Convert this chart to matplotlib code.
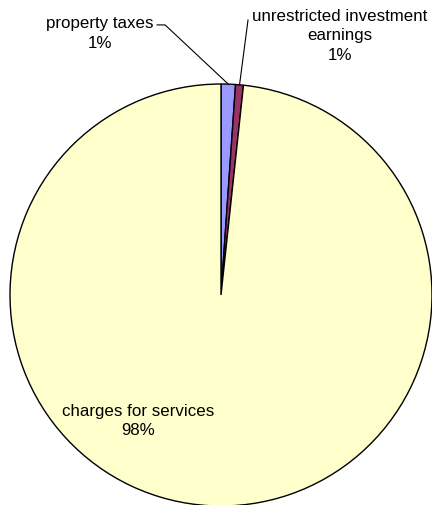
import matplotlib
matplotlib.use("Agg")
import matplotlib.pyplot as plt
import numpy as np

plt.rcParams['font.family'] = ['Liberation Sans', 'DejaVu Sans']

labels = ['property taxes', 'unrestricted investment\nearnings', 'charges for services']
values = [1.1, 0.6, 98.3]
colors = ['#9999FF', '#993366', '#FFFFCC']
pct_text = ['1%', '1%', '98%']

W, H = 432, 505
fig = plt.figure(figsize=(W / 100, H / 100), dpi=100)
# pie box in pixels: x 10..432, y 84..506 (from top)
ax = fig.add_axes([10 / W, 1 - 506 / H, 422 / W, 422 / H])

wedges, _ = ax.pie(values, colors=colors, startangle=90, counterclock=False,
                   wedgeprops=dict(edgecolor='black', linewidth=1.0))
ax.set_xlim(-1, 1)
ax.set_ylim(-1, 1)
ax.set_aspect('equal')
ax.axis('off')


def mid_point(w, r=1.0):
    a = np.deg2rad((w.theta1 + w.theta2) / 2)
    return r * np.cos(a), r * np.sin(a)


fs = 12.2
ls = 1.4
# property taxes
px, py = mid_point(wedges[0])
ax.text(-0.573, 1.24, labels[0] + '\n' + pct_text[0], ha='center', va='center',
        fontsize=fs, linespacing=ls, clip_on=False)
ax.plot([-0.303, -0.265, px], [1.280, 1.280, py], color='black', lw=0.8, clip_on=False)

# unrestricted investment earnings
px, py = mid_point(wedges[1])
ax.text(0.562, 1.228, labels[1] + '\n' + pct_text[1], ha='center', va='center',
        fontsize=fs, linespacing=ls, clip_on=False)
ax.plot([0.128, px], [1.303, py], color='black', lw=0.8, clip_on=False)

# charges for services
ax.text(-0.393, -0.597, labels[2] + '\n' + pct_text[2], ha='center', va='center',
        fontsize=fs, linespacing=ls)

fig.savefig('out.png', dpi=100)
